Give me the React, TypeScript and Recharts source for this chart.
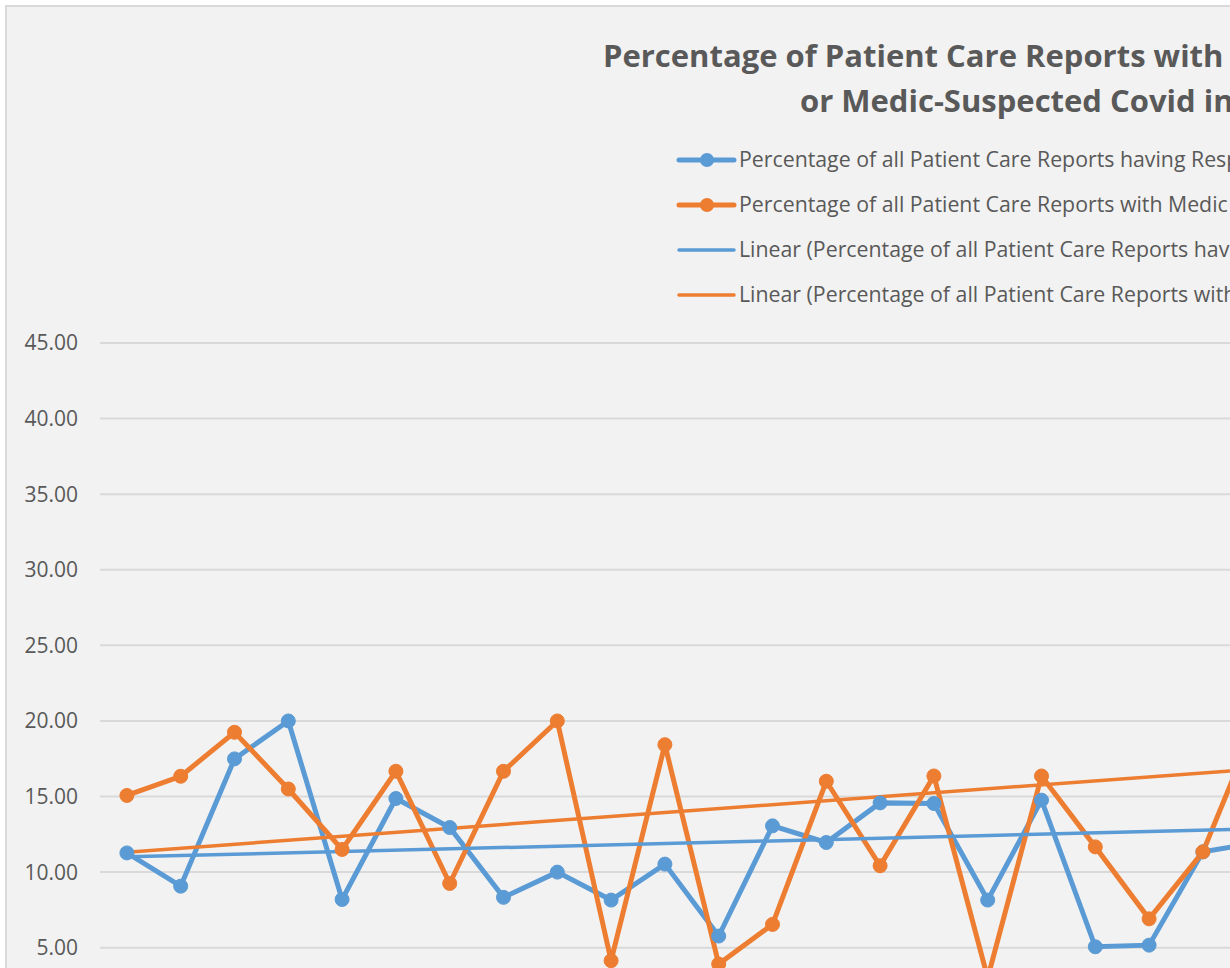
import { LineChart, Line, XAxis, YAxis, CartesianGrid, Legend } from 'recharts'

// Excel-ish palette
const BLUE = '#5b9bd5'
const ORANGE = '#ed7d31'
const TEXT = '#595959'
const GRID = '#d9d9d9'
const FONT = '"Open Sans", sans-serif'

const CATEGORIES = ['1', '2', '3', '4', '5', '6', '7', '8', '9', '10', '11', '12', '13', '14', '15', '16', '17', '18', '19', '20', '21', '22']
const RESPIRATORY = [11.27, 9.07, 17.49, 20.0, 8.19, 14.87, 12.95, 8.33, 10.0, 8.15, 10.53, 5.77, 13.06, 11.96, 14.58, 14.54, 8.15, 14.76, 5.06, 5.17, 11.34, 11.95]
const MEDIC_SUSPECTED = [15.07, 16.34, 19.25, 15.5, 11.5, 16.67, 9.25, 16.67, 20.0, 4.14, 18.43, 3.92, 6.54, 16.01, 10.42, 16.36, 3.0, 16.36, 11.67, 6.91, 11.34, 20.0]
// linear trendlines: value at first and last category
const RESPIRATORY_TREND = [11.01, 12.86]
const MEDIC_TREND = [11.32, 16.82]
const Y_TICKS = [0, 5, 10, 15, 20, 25, 30, 35, 40, 45]

const NAMES = {
  resp: 'Percentage of all Patient Care Reports having Respiratory Symptoms',
  medic: 'Percentage of all Patient Care Reports with Medic Suspected Covid',
  respTrend: 'Linear (Percentage of all Patient Care Reports having Respiratory Symptoms)',
  medicTrend: 'Linear (Percentage of all Patient Care Reports with Medic Suspected Covid)',
}
const LEGEND_ORDER = ['resp', 'medic', 'respTrend', 'medicTrend']

const last = CATEGORIES.length - 1
const data = CATEGORIES.map((week, i) => ({
  week,
  resp: RESPIRATORY[i],
  medic: MEDIC_SUSPECTED[i],
  respTrend: i === 0 ? RESPIRATORY_TREND[0] : i === last ? RESPIRATORY_TREND[1] : null,
  medicTrend: i === 0 ? MEDIC_TREND[0] : i === last ? MEDIC_TREND[1] : null,
}))

function LegendBox({ payload }: any) {
  const items = [...(payload || [])].sort(
    (a: any, b: any) => LEGEND_ORDER.indexOf(a.dataKey) - LEGEND_ORDER.indexOf(b.dataKey)
  )
  return (
    <svg width={640} height={180} style={{ display: 'block' }}>
      {items.map((p: any, i: number) => {
        const y = 25 + i * 45
        const isTrend = String(p.dataKey).endsWith('Trend')
        return (
          <g key={p.dataKey}>
            <line x1={9} x2={64} y1={y} y2={y} stroke={p.color} strokeWidth={isTrend ? 3.5 : 5} strokeLinecap="round" />
            {!isTrend && <circle cx={37} cy={y} r={7} fill={p.color} />}
            <text x={69} y={y} dy="0.35em" fill={TEXT} fontSize={21.3} fontFamily={FONT}>{p.value}</text>
          </g>
        )
      })}
    </svg>
  )
}

export default function App() {
  return (
    <div style={{ position: 'absolute', left: 0, top: 0, width: 1230, height: 968, overflow: 'hidden' }}>
      <div style={{ position: 'absolute', left: 5, top: 5, width: 1300, height: 1100, border: `2px solid ${GRID}`, background: '#f2f2f2', boxSizing: 'border-box' }} />
      <svg style={{ position: 'absolute', left: 0, top: 0 }} width={1230} height={140}>
        <text x={603} y={67} fill={TEXT} fontSize={31} fontWeight="bold" fontFamily={FONT}>Percentage of Patient Care Reports with Respiratory Symptoms</text>
        <text x={800} y={112} fill={TEXT} fontSize={31} fontWeight="bold" fontFamily={FONT}>or Medic-Suspected Covid in 2020</text>
      </svg>
      <div style={{ position: 'absolute', left: 0, top: 0 }}>
        <LineChart width={1300} height={1100} data={data} margin={{ top: 343, right: 16.4, bottom: 36.7, left: 0 }}>
          <CartesianGrid vertical={false} stroke={GRID} strokeWidth={2} />
          <XAxis dataKey="week" padding={{ left: 26.9, right: 26.9 }} axisLine={{ stroke: GRID, strokeWidth: 2 }} tickLine={false} height={40} tick={{ fill: TEXT, fontSize: 18, fontFamily: FONT }} />
          <YAxis width={100} domain={[0, 45]} ticks={Y_TICKS} tickFormatter={(v: number) => v.toFixed(2)} axisLine={false} tickLine={false} tickSize={0} tickMargin={22} tick={{ fill: TEXT, fontSize: 21, fontFamily: FONT }} />
          <Legend layout="vertical" align="center" verticalAlign="middle" content={<LegendBox />} wrapperStyle={{ left: 670, top: 135, width: 640, height: 180 }} />
          <Line dataKey="resp" name={NAMES.resp} stroke={BLUE} strokeWidth={5} dot={{ r: 7, fill: BLUE, stroke: BLUE, strokeWidth: 1 }} activeDot={false} isAnimationActive={false} />
          <Line dataKey="medic" name={NAMES.medic} stroke={ORANGE} strokeWidth={5} dot={{ r: 7, fill: ORANGE, stroke: ORANGE, strokeWidth: 1 }} activeDot={false} isAnimationActive={false} />
          <Line dataKey="respTrend" name={NAMES.respTrend} stroke={BLUE} strokeWidth={3.5} dot={false} activeDot={false} connectNulls isAnimationActive={false} />
          <Line dataKey="medicTrend" name={NAMES.medicTrend} stroke={ORANGE} strokeWidth={3.5} dot={false} activeDot={false} connectNulls isAnimationActive={false} />
        </LineChart>
      </div>
    </div>
  )
}
